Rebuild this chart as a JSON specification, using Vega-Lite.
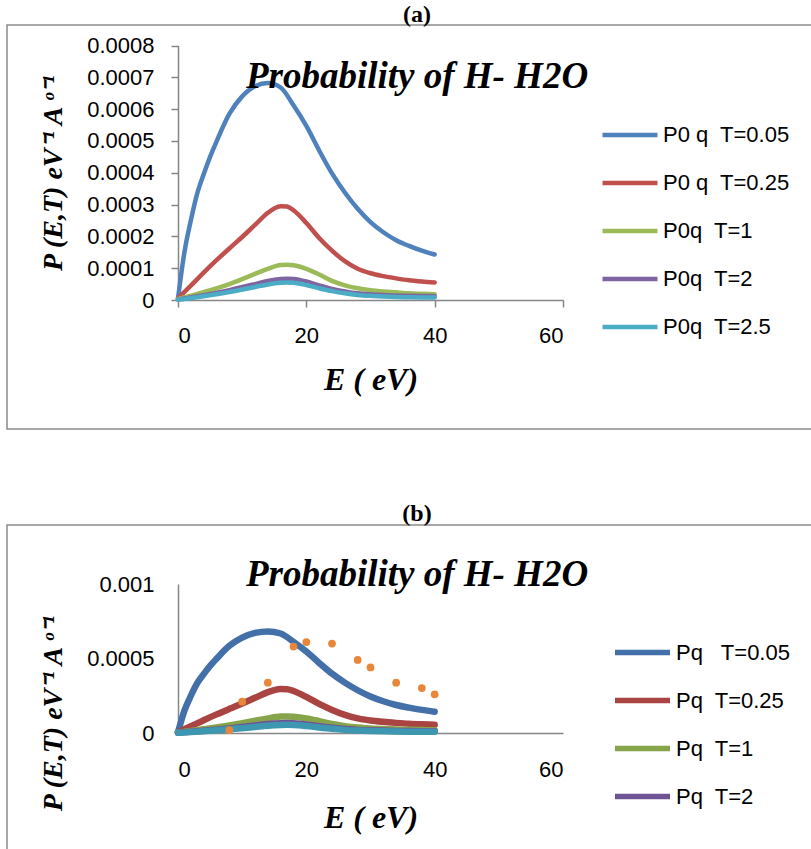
{
  "$schema": "https://vega.github.io/schema/vega-lite/v6.json",
  "background": "white",
  "padding": {"left": 6, "top": 2, "right": 0, "bottom": 0},
  "spacing": 71,
  "config": {
    "view": {"stroke": "#8c8c8c", "strokeWidth": 1.5},
    "title": {"fontSize": 24},
    "axis": {
      "grid": false,
      "domainColor": "#868686",
      "domainWidth": 1.5,
      "tickColor": "#868686",
      "tickWidth": 1.5,
      "labelFont": "Liberation Sans",
      "labelFontSize": 22,
      "labelColor": "#000000",
      "titleColor": "#000000",
      "titleFont": "Liberation Serif",
      "titleFontStyle": "italic",
      "titleFontWeight": "bold"
    },
    "legend": {
      "labelFont": "Liberation Sans",
      "labelFontSize": 22,
      "labelColor": "#000000"
    }
  },
  "datasets": {
    "curves": [
      {"E": 0, "T": "0.05", "P": 0.000005},
      {"E": 1, "T": "0.05", "P": 0.00015},
      {"E": 2, "T": "0.05", "P": 0.00025},
      {"E": 3, "T": "0.05", "P": 0.000335},
      {"E": 4, "T": "0.05", "P": 0.000395},
      {"E": 5, "T": "0.05", "P": 0.00045},
      {"E": 6, "T": "0.05", "P": 0.000498},
      {"E": 8, "T": "0.05", "P": 0.000585},
      {"E": 10, "T": "0.05", "P": 0.00064},
      {"E": 12, "T": "0.05", "P": 0.000672},
      {"E": 14, "T": "0.05", "P": 0.000682},
      {"E": 16, "T": "0.05", "P": 0.000668},
      {"E": 18, "T": "0.05", "P": 0.000612},
      {"E": 20, "T": "0.05", "P": 0.000547},
      {"E": 22, "T": "0.05", "P": 0.00047},
      {"E": 24, "T": "0.05", "P": 0.000398},
      {"E": 26, "T": "0.05", "P": 0.000338},
      {"E": 28, "T": "0.05", "P": 0.000287},
      {"E": 30, "T": "0.05", "P": 0.000245},
      {"E": 32, "T": "0.05", "P": 0.000213},
      {"E": 34, "T": "0.05", "P": 0.000188},
      {"E": 36, "T": "0.05", "P": 0.00017},
      {"E": 38, "T": "0.05", "P": 0.000155},
      {"E": 40, "T": "0.05", "P": 0.000143},

      {"E": 0, "T": "0.25", "P": 0.000005},
      {"E": 2, "T": "0.25", "P": 0.000045},
      {"E": 4, "T": "0.25", "P": 0.000086},
      {"E": 6, "T": "0.25", "P": 0.000125},
      {"E": 8, "T": "0.25", "P": 0.000162},
      {"E": 10, "T": "0.25", "P": 0.000198},
      {"E": 12, "T": "0.25", "P": 0.000236},
      {"E": 14, "T": "0.25", "P": 0.000274},
      {"E": 15, "T": "0.25", "P": 0.000288},
      {"E": 16, "T": "0.25", "P": 0.000295},
      {"E": 17, "T": "0.25", "P": 0.000294},
      {"E": 18, "T": "0.25", "P": 0.000282},
      {"E": 20, "T": "0.25", "P": 0.000242},
      {"E": 22, "T": "0.25", "P": 0.000195},
      {"E": 24, "T": "0.25", "P": 0.000155},
      {"E": 26, "T": "0.25", "P": 0.000122},
      {"E": 28, "T": "0.25", "P": 0.000098},
      {"E": 30, "T": "0.25", "P": 0.000084},
      {"E": 32, "T": "0.25", "P": 0.000075},
      {"E": 34, "T": "0.25", "P": 0.000068},
      {"E": 36, "T": "0.25", "P": 0.000062},
      {"E": 38, "T": "0.25", "P": 0.000058},
      {"E": 40, "T": "0.25", "P": 0.000055},

      {"E": 0, "T": "1", "P": 0.000003},
      {"E": 4, "T": "1", "P": 0.000025},
      {"E": 8, "T": "1", "P": 0.00005},
      {"E": 12, "T": "1", "P": 0.000082},
      {"E": 14, "T": "1", "P": 0.000098},
      {"E": 16, "T": "1", "P": 0.00011},
      {"E": 17, "T": "1", "P": 0.000111},
      {"E": 18, "T": "1", "P": 0.000109},
      {"E": 20, "T": "1", "P": 0.000098},
      {"E": 22, "T": "1", "P": 0.00008},
      {"E": 24, "T": "1", "P": 0.00006},
      {"E": 26, "T": "1", "P": 0.000046},
      {"E": 28, "T": "1", "P": 0.000037},
      {"E": 30, "T": "1", "P": 0.000031},
      {"E": 32, "T": "1", "P": 0.000027},
      {"E": 34, "T": "1", "P": 0.000024},
      {"E": 36, "T": "1", "P": 0.000021},
      {"E": 38, "T": "1", "P": 0.0000195},
      {"E": 40, "T": "1", "P": 0.000018},

      {"E": 0, "T": "2", "P": 0.000002},
      {"E": 4, "T": "2", "P": 0.000015},
      {"E": 8, "T": "2", "P": 0.000031},
      {"E": 12, "T": "2", "P": 0.00005},
      {"E": 14, "T": "2", "P": 0.00006},
      {"E": 16, "T": "2", "P": 0.000066},
      {"E": 17, "T": "2", "P": 0.000067},
      {"E": 18, "T": "2", "P": 0.000066},
      {"E": 20, "T": "2", "P": 0.000058},
      {"E": 22, "T": "2", "P": 0.000046},
      {"E": 24, "T": "2", "P": 0.000035},
      {"E": 26, "T": "2", "P": 0.000027},
      {"E": 28, "T": "2", "P": 0.000021},
      {"E": 30, "T": "2", "P": 0.000018},
      {"E": 32, "T": "2", "P": 0.000016},
      {"E": 34, "T": "2", "P": 0.000014},
      {"E": 36, "T": "2", "P": 0.000013},
      {"E": 38, "T": "2", "P": 0.0000125},
      {"E": 40, "T": "2", "P": 0.000012},

      {"E": 0, "T": "2.5", "P": 0.000001},
      {"E": 4, "T": "2.5", "P": 0.000012},
      {"E": 8, "T": "2.5", "P": 0.000025},
      {"E": 12, "T": "2.5", "P": 0.000041},
      {"E": 14, "T": "2.5", "P": 0.000049},
      {"E": 16, "T": "2.5", "P": 0.000054},
      {"E": 17, "T": "2.5", "P": 0.000055},
      {"E": 18, "T": "2.5", "P": 0.000054},
      {"E": 20, "T": "2.5", "P": 0.000047},
      {"E": 22, "T": "2.5", "P": 0.000037},
      {"E": 24, "T": "2.5", "P": 0.000028},
      {"E": 26, "T": "2.5", "P": 0.000021},
      {"E": 28, "T": "2.5", "P": 0.000016},
      {"E": 30, "T": "2.5", "P": 0.000013},
      {"E": 32, "T": "2.5", "P": 0.000011},
      {"E": 34, "T": "2.5", "P": 0.0000095},
      {"E": 36, "T": "2.5", "P": 0.0000088},
      {"E": 38, "T": "2.5", "P": 0.0000082},
      {"E": 40, "T": "2.5", "P": 0.000008}
    ],
    "exp": [
      {"E": 8, "P": 0.00002},
      {"E": 10, "P": 0.00021},
      {"E": 14, "P": 0.000338},
      {"E": 18, "P": 0.00058},
      {"E": 20, "P": 0.00061},
      {"E": 24, "P": 0.0006},
      {"E": 28, "P": 0.00049},
      {"E": 30, "P": 0.00044},
      {"E": 34, "P": 0.000338},
      {"E": 38, "P": 0.000302},
      {"E": 40, "P": 0.00026}
    ]
  },
  "resolve": {
    "scale": {"x": "independent", "y": "independent", "color": "independent"},
    "legend": {"color": "independent"}
  },
  "vconcat": [
    {
      "width": 810,
      "height": 404,
      "title": {
        "text": "(a)", "font": "Liberation Serif", "fontWeight": "bold", "fontSize": 24, "color": "#000000",
        "subtitle": "Probability of H- H2O", "subtitleFont": "Liberation Serif", "subtitleFontStyle": "italic", "subtitleFontWeight": "bold", "subtitleFontSize": 37, "subtitleColor": "#000000", "subtitlePadding": 32,
        "anchor": "middle", "dx": 5, "offset": -70
      },
      "data": {"name": "curves"},
      "mark": {"type": "line", "interpolate": "monotone", "strokeWidth": 4.5, "strokeCap": "round"},
      "encoding": {
        "x": {
          "field": "E", "type": "quantitative",
          "scale": {"domain": [0, 60], "range": [171, 556], "nice": false},
          "axis": {"values": [0, 20, 40, 60], "offset": -129, "tickSize": 7, "labelPadding": 18, "title": "E ( eV)", "titleFontSize": 32, "titlePadding": 18}
        },
        "y": {
          "field": "P", "type": "quantitative",
          "scale": {"domain": [0, 0.0008], "range": [275, 20.5], "nice": false, "zero": false},
          "axis": {"values": [0, 0.0001, 0.0002, 0.0003, 0.0004, 0.0005, 0.0006, 0.0007, 0.0008], "format": ".4~f", "offset": -171, "tickSize": 7, "labelPadding": 17, "title": "P (E,T) eV⁻¹ A ᵒ⁻¹", "titleFontSize": 28, "titlePadding": 19}
        },
        "color": {
          "field": "T", "type": "nominal",
          "scale": {"domain": ["0.05", "0.25", "1", "2", "2.5"], "range": ["#4F81BD", "#C0504D", "#9BBB59", "#8064A2", "#4BACC6"]},
          "legend": {
            "orient": "none", "legendX": 593, "legendY": 80, "title": null,
            "symbolType": "stroke", "symbolSize": 3025, "symbolStrokeWidth": 4.5,
            "rowPadding": 7, "labelOffset": 3,
            "labelExpr": "datum.label == '0.05' ? 'P0 q\u00a0 T=0.05' : datum.label == '0.25' ? 'P0 q\u00a0 T=0.25' : datum.label == '1' ? 'P0q\u00a0 T=1' : datum.label == '2' ? 'P0q\u00a0 T=2' : 'P0q\u00a0 T=2.5'"
          }
        }
      }
    },
    {
      "width": 810,
      "height": 404,
      "title": {
        "text": "(b)", "font": "Liberation Serif", "fontWeight": "bold", "fontSize": 24, "color": "#000000",
        "subtitle": "Probability of H- H2O", "subtitleFont": "Liberation Serif", "subtitleFontStyle": "italic", "subtitleFontWeight": "bold", "subtitleFontSize": 37, "subtitleColor": "#000000", "subtitlePadding": 31,
        "anchor": "middle", "dx": 5, "offset": -68
      },
      "layer": [
        {
          "data": {"name": "curves"},
          "mark": {"type": "line", "interpolate": "monotone", "strokeWidth": 6.5, "strokeCap": "round"},
          "encoding": {
            "x": {
              "field": "E", "type": "quantitative",
              "scale": {"domain": [0, 60], "range": [171, 556], "nice": false},
              "axis": {"values": [0, 20, 40, 60], "offset": -196, "ticks": false, "labelPadding": 26, "title": "E ( eV)", "titleFontSize": 32, "titlePadding": 22}
            },
            "y": {
              "field": "P", "type": "quantitative",
              "scale": {"domain": [0, 0.001], "range": [208, 59], "nice": false, "zero": false},
              "axis": {"values": [0, 0.0005, 0.001], "format": "~g", "offset": -171, "ticks": false, "labelPadding": 24, "title": "P (E,T) eV⁻¹ A ᵒ⁻¹", "titleFontSize": 28, "titlePadding": 19, "titleY": 188}
            },
            "color": {
              "field": "T", "type": "nominal",
              "scale": {"domain": ["0.05", "0.25", "1", "2", "2.5"], "range": ["#4470AA", "#A94442", "#86A44A", "#6E5494", "#3E97B0"]},
              "legend": {
                "orient": "none", "legendX": 605, "legendY": 97, "title": null,
                "values": ["0.05", "0.25", "1", "2"],
                "symbolType": "stroke", "symbolSize": 3025, "symbolStrokeWidth": 5.5,
                "rowPadding": 6, "labelOffset": 3,
                "labelExpr": "datum.label == '0.05' ? 'Pq\u00a0\u00a0 T=0.05' : datum.label == '0.25' ? 'Pq\u00a0 T=0.25' : datum.label == '1' ? 'Pq\u00a0 T=1' : 'Pq\u00a0 T=2'"
              }
            }
          }
        },
        {
          "data": {"name": "exp"},
          "mark": {"type": "circle", "size": 60, "opacity": 1, "color": "#E8873A"},
          "encoding": {
            "x": {"field": "E", "type": "quantitative"},
            "y": {"field": "P", "type": "quantitative"}
          }
        }
      ]
    }
  ]
}
